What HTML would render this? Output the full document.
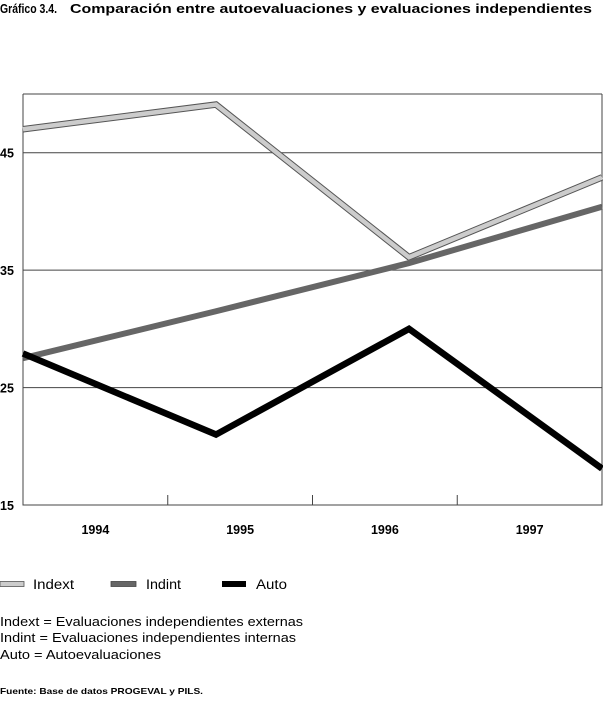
<!DOCTYPE html>
<html><head><meta charset="utf-8">
<style>
body{margin:0;background:#fff;width:603px;height:702px;overflow:hidden;font-family:"Liberation Sans",Arial,sans-serif;}
svg{display:block}
</style></head>
<body>
<svg id="chart" width="603" height="702" xmlns="http://www.w3.org/2000/svg" font-family="Liberation Sans, Arial, sans-serif">
<text x="0" y="13" font-size="12.5" font-weight="bold" textLength="57" lengthAdjust="spacingAndGlyphs">Gráfico 3.4.</text>
<text x="70" y="13" font-size="12.5" font-weight="bold" textLength="522" lengthAdjust="spacingAndGlyphs">Comparación entre autoevaluaciones y evaluaciones independientes</text>
<g id="grid"></g>
<g id="series"></g>
<g id="legend">
 <rect x="0" y="581.5" width="24" height="5" fill="#ccc" stroke="#555" stroke-width="0.8"/>
 <text x="33" y="589" font-size="13.5" textLength="41" lengthAdjust="spacingAndGlyphs">Indext</text>
 <rect x="111" y="581.5" width="25" height="5" fill="#666" stroke="#444" stroke-width="0.8"/>
 <text x="146" y="589" font-size="13.5" textLength="35" lengthAdjust="spacingAndGlyphs">Indint</text>
 <rect x="222" y="581" width="24" height="6" fill="#000"/>
 <text x="256" y="589" font-size="13.5" textLength="31" lengthAdjust="spacingAndGlyphs">Auto</text>
</g>
<g font-size="13">
 <text x="0" y="626" textLength="303" lengthAdjust="spacingAndGlyphs">Indext = Evaluaciones independientes externas</text>
 <text x="0" y="642" textLength="296" lengthAdjust="spacingAndGlyphs">Indint = Evaluaciones independientes internas</text>
 <text x="0" y="659" textLength="161" lengthAdjust="spacingAndGlyphs">Auto = Autoevaluaciones</text>
</g>
<text x="0" y="694" font-size="8.5" font-weight="bold" textLength="203" lengthAdjust="spacingAndGlyphs">Fuente: Base de datos PROGEVAL y PILS.</text>
</svg>
<script>
const categories=["1994","1995","1996","1997"];
const yTicks=[15,25,35,45];
const indext=[47.0,49.1,36.1,42.9];
const indint=[27.5,31.5,35.6,40.4];
const auto=[27.9,21.0,30.0,18.1];

const L=23,R=602,T=94,B=505,yMin=15,yMax=50;
const NS="http://www.w3.org/2000/svg";
function y(v){return B-(v-yMin)/(yMax-yMin)*(B-T);}
function xp(i){return L+i*(R-L)/(categories.length-1);}
function xc(i){return L+(i+0.5)*(R-L)/categories.length;}
function mk(t,a,p){const e=document.createElementNS(NS,t);for(const k in a)e.setAttribute(k,a[k]);p.appendChild(e);return e;}
const g=document.getElementById('grid');
yTicks.forEach(v=>{
 if(v>yMin){const l=mk('line',{x1:L,x2:R,y1:y(v),y2:y(v),stroke:'#444','stroke-width':1},g);
 
 }
 const t=mk('text',{x:0,y:y(v)+5,'font-size':12.5,'font-weight':'bold'},g);t.textContent=v;
 
 
});
const frameTop=mk('line',{x1:L,x2:R,y1:T,y2:T,stroke:'#444','stroke-width':1},g);


const ax=mk('path',{d:`M${L} ${T}V${B}H${R}V${T}`,fill:'none',stroke:'#444','stroke-width':1},g);


categories.forEach((c,i)=>{
 if(i>0){const tk=mk('line',{x1:L+i*(R-L)/categories.length,x2:L+i*(R-L)/categories.length,y1:B-10,y2:B,stroke:'#444'},g);
 
 }
 const t=mk('text',{x:xc(i),y:B+29,'font-size':12.5,'font-weight':'bold','text-anchor':'middle'},g);t.textContent=c;
 
 
});
const s=document.getElementById('series');
function pts(arr){return arr.map((v,i)=>xp(i)+','+y(v)).join(' ');}
let o=mk('polyline',{points:pts(indext),fill:'none',stroke:'#555','stroke-width':6.5},s);


let l1=mk('polyline',{points:pts(indext),fill:'none',stroke:'#ccc','stroke-width':4.5},s);


let l2=mk('polyline',{points:pts(indint),fill:'none',stroke:'#666','stroke-width':6},s);


let l3=mk('polyline',{points:pts(auto),fill:'none',stroke:'#000','stroke-width':6.5},s);


</script>
</body></html>
